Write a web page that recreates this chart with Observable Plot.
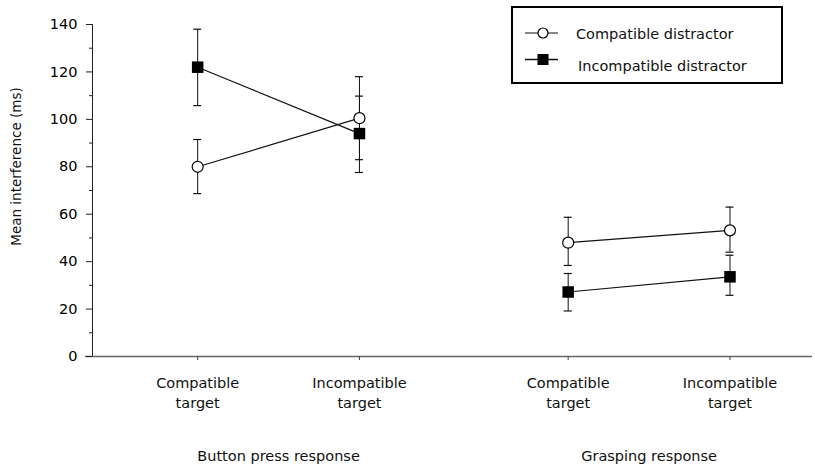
<!DOCTYPE html>
<html>
<head>
<meta charset="utf-8">
<script src="https://cdn.jsdelivr.net/npm/d3@7"></script>
<script src="https://cdn.jsdelivr.net/npm/@observablehq/plot@0.6"></script>
<style>
  html, body { margin: 0; padding: 0; background: #fff; }
  #wrap { position: relative; width: 815px; height: 467px; font-family: "DejaVu Sans", sans-serif; }
  #legend { position: absolute; left: 511px; top: 6px; width: 268px; height: 74px; border: 2px solid #000; background: #fff; }
</style>
</head>
<body>
<div id="wrap">
  <div id="chart"></div>
  <div id="legend"></div>
</div>
<script>
// ---- data ----
const responses = ["Button press response", "Grasping response"];
const targets = ["Compatible\ntarget", "Incompatible\ntarget"];
const distractors = ["Compatible distractor", "Incompatible distractor"];
// order: button/compatible target, button/incompatible target, grasp/compatible target, grasp/incompatible target
const compatibleMean = [80, 100.5, 48, 53.2];
const compatibleLow = [68.7, 83, 38.4, 44];
const compatibleHigh = [91.5, 118, 58.7, 63];
const incompatibleMean = [122, 94, 27.2, 33.6];
const incompatibleLow = [105.8, 77.6, 19.2, 25.8];
const incompatibleHigh = [138, 109.8, 35, 42.7];
const yTicks = [0, 20, 40, 60, 80, 100, 120, 140];
const yMinorTicks = [10, 30, 50, 70, 90, 110, 130];
const yLabel = "Mean interference (ms)";

// ---- layout ----
const GROUP_GAP = 2.29;       // spacing between the two response groups (in target units)
const XMIN = -0.65, XMAX = 3.8;
const FONT = "DejaVu Sans";
const xOf = (gi, ti) => gi * GROUP_GAP + ti;

const series = [
  {name: distractors[0], mean: compatibleMean, low: compatibleLow, high: compatibleHigh},
  {name: distractors[1], mean: incompatibleMean, low: incompatibleLow, high: incompatibleHigh}
];
const rows = [];
series.forEach(s => {
  s.mean.forEach((m, i) => {
    const gi = Math.floor(i / 2), ti = i % 2;
    rows.push({distractor: s.name, response: responses[gi], target: targets[ti],
               x: xOf(gi, ti), mean: m, low: s.low[i], high: s.high[i]});
  });
});
const tickRows = [];
responses.forEach((r, gi) => targets.forEach((t, ti) => tickRows.push({x: xOf(gi, ti), label: t})));
const groupRows = responses.map((r, gi) => ({x: (xOf(gi, 0) + xOf(gi, 1)) / 2, label: r}));

const comp = rows.filter(d => d.distractor === distractors[0]);
const incomp = rows.filter(d => d.distractor === distractors[1]);

const chart = Plot.plot({
  width: 815,
  height: 467,
  marginLeft: 92,
  marginRight: 3,
  marginTop: 24,
  marginBottom: 111,
  style: {fontFamily: FONT, fontSize: "14.5px", background: "#fff", color: "#000"},
  x: {type: "linear", domain: [XMIN, XMAX], axis: null},
  y: {domain: [0, 140], axis: null, label: null},
  marks: [
    // axes lines
    Plot.ruleX([XMIN], {stroke: "#222", strokeWidth: 1}),
    Plot.ruleY([0], {stroke: "#666", strokeWidth: 1.5, insetLeft: -7}),
    Plot.axisY({ticks: yTicks, tickSize: 6, tickPadding: 9, fontSize: 14.5, label: null, stroke: "#222"}),
    Plot.axisY({ticks: yMinorTicks, tickSize: 3, tickFormat: () => "", label: null, stroke: "#222"}),
    Plot.axisX({ticks: tickRows.map(d => d.x), tickSize: 4, tickFormat: () => "", label: null, stroke: "#444"}),
    Plot.text(tickRows, {x: "x", text: "label", frameAnchor: "bottom", dy: 17, lineAnchor: "top",
                         lineHeight: 1.38, fontSize: 14.5, fill: "#111"}),
    Plot.text(groupRows, {x: "x", text: "label", frameAnchor: "bottom", dy: 100, lineAnchor: "middle",
                          fontSize: 14.5, fill: "#111"}),
    Plot.text([yLabel], {frameAnchor: "left", textAnchor: "middle", rotate: -90, dx: -76, dy: -24,
                         fontSize: 13.5, fill: "#111"}),
    // connecting lines
    Plot.line(rows, {x: "x", y: "mean", z: d => d.distractor + "|" + d.response, stroke: "#111", strokeWidth: 1.2}),
    // error bars
    Plot.ruleX(rows, {x: "x", y1: "low", y2: "high", stroke: "#111", strokeWidth: 1}),
    Plot.ruleY(rows, {y: "low", x1: "x", x2: "x", insetLeft: -4, insetRight: -4, stroke: "#111", strokeWidth: 1.2}),
    Plot.ruleY(rows, {y: "high", x1: "x", x2: "x", insetLeft: -4, insetRight: -4, stroke: "#111", strokeWidth: 1.2}),
    // markers
    Plot.dot(comp, {x: "x", y: "mean", r: 5.5, symbol: "circle", fill: "#fff", stroke: "#000", strokeWidth: 1.2}),
    Plot.dot(incomp, {x: "x", y: "mean", r: 6.5, symbol: "square", fill: "#000", stroke: "none"})
  ]
});
document.getElementById("chart").appendChild(chart);

// legend
const lg = d3.select("#legend").append("svg").attr("width", 268).attr("height", 74)
  .style("font-family", FONT).style("font-size", "14.5px");
const items = [
  {label: distractors[0], sy: 25, ty: 31, tx: 63, sym: "circle"},
  {label: distractors[1], sy: 51.5, ty: 63, tx: 65, sym: "square"}
];
items.forEach(it => {
  lg.append("line").attr("x1", 12).attr("x2", 45).attr("y1", it.sy).attr("y2", it.sy)
    .attr("stroke", "#111").attr("stroke-width", it.sym === "square" ? 1.6 : 1.2);
  if (it.sym === "circle") {
    lg.append("circle").attr("cx", 30).attr("cy", it.sy).attr("r", 5).attr("fill", "#fff")
      .attr("stroke", "#000").attr("stroke-width", 1.2);
  } else {
    lg.append("rect").attr("x", 24.5).attr("y", it.sy - 5.5).attr("width", 11).attr("height", 11).attr("fill", "#000");
  }
  lg.append("text").attr("x", it.tx).attr("y", it.ty).attr("fill", "#111").text(it.label);
});
</script>
</body>
</html>
